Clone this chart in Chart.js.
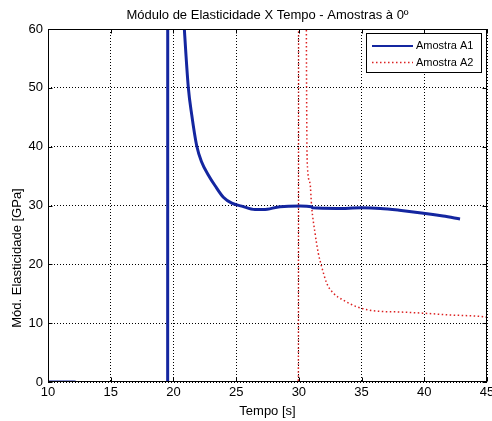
<!DOCTYPE html>
<html>
<head>
<meta charset="utf-8">
<script src="https://cdn.jsdelivr.net/npm/chart.js@4"></script>
<style>
html,body{margin:0;padding:0;background:#fff}
</style>
</head>
<body>
<canvas id="myChart" width="492" height="421"></canvas>
<script>
// tick values
let xTicks=[10,15,20,25,30,35,40,45]
let yTicks=[0,10,20,30,40,50,60]

// Amostra A1 (blue) - null = gap in the line
let a1X=[10,12.2,15,19.54,19.56,20.6,20.87,21.19,21.46,21.85,22.25,22.78,23.31,23.98,24.65,25.44,26.5,27.17,28.5,30.1,31.0,31.1,33.0,35.0,36.5,38.0,39.93,41.5,42.85]
let a1Y=[0,0,null,0,200,70,60,50,45.4,40.2,37.4,35.2,33.4,31.4,30.4,29.9,29.3,29.3,29.8,29.9,29.8,29.6,29.5,29.6,29.5,29.2,28.7,28.2,27.7]

// Amostra A2 (red dotted)
let a2X=[12.2,29.96,30.0,30.58,30.62,30.66,30.89,31.02,31.29,31.55,31.82,32.22,32.75,33.55,34.6,35.67,36.5,38.0,39.9,42.0,44.7,45]
let a2Y=[0,0,150,70,47.9,37.7,33.8,29.8,25.3,21.9,19.6,16.8,15.1,13.9,12.8,12.2,12.0,11.9,11.7,11.4,11.1,11.0]

let names=["Amostra A1","Amostra A2"]
let colors=["#1426a0","#dc2020"]

function pts(xs,ys){
  let out=[]
  for(let i=0;i<xs.length;i++){ out.push({x:xs[i],y:ys[i]}) }
  return out
}

let fontName="'Liberation Sans', Arial, sans-serif"

let decoPlugin={
  id:"deco",
  afterDraw(chart){
    let c=chart.ctx
    let a=chart.chartArea
    let sx=chart.scales.x, sy=chart.scales.y
    let L=Math.round(a.left)+0.5, R=Math.round(a.right)-0.5, T=Math.round(a.top)+0.5, B=Math.round(a.bottom)-0.5
    c.save()
    c.setLineDash([])
    c.strokeStyle="#000"
    c.lineWidth=1
    c.strokeRect(L,T,R-L,B-T)
    // inward ticks
    c.beginPath()
    xTicks.forEach(v=>{
      let p=Math.round(sx.getPixelForValue(v))+0.5
      c.moveTo(p,B);c.lineTo(p,B-4)
      c.moveTo(p,T);c.lineTo(p,T+4)
    })
    yTicks.forEach(v=>{
      let p=Math.round(sy.getPixelForValue(v))+0.5
      c.moveTo(L,p);c.lineTo(L+4,p)
      c.moveTo(R,p);c.lineTo(R-4,p)
    })
    c.stroke()

    // title and axis labels
    c.fillStyle="#000"
    c.font="13px "+fontName
    c.textAlign="center"
    c.textBaseline="middle"
    c.fillText("Módulo de Elasticidade X Tempo - Amostras à 0º",(a.left+a.right)/2,15)
    c.fillText("Tempo [s]",(a.left+a.right)/2,411)
    c.save()
    c.translate(17,258)
    c.rotate(-Math.PI/2)
    c.fillText("Mód. Elasticidade [GPa]",0,0)
    c.restore()

    // legend box
    let lx=366.5, ly=33.5, lw=115, lh=39
    c.fillStyle="#fff"
    c.fillRect(lx,ly,lw,lh)
    c.strokeStyle="#000"
    c.lineWidth=1
    c.strokeRect(lx,ly,lw,lh)
    c.font="11px "+fontName
    c.textAlign="left"
    c.fillStyle="#000"
    let rows=[46,62.5]
    names.forEach((n,i)=>{
      c.beginPath()
      c.strokeStyle=colors[i]
      if(i==0){c.lineWidth=2;c.setLineDash([])}
      else{c.lineWidth=1.5;c.setLineDash([1.5,2.5])}
      c.moveTo(372,rows[i]);c.lineTo(413,rows[i])
      c.stroke()
      c.setLineDash([])
      c.fillText(n,416,rows[i])
    })
    c.restore()
  }
}

let ctx=document.getElementById("myChart").getContext("2d")
let myChart=new Chart(ctx,{
  type:"scatter",
  data:{
    datasets:[{
      label:names[0],
      data:pts(a1X,a1Y),
      showLine:true,
      spanGaps:false,
      borderColor:colors[0],
      borderWidth:3,
      pointRadius:0,
      cubicInterpolationMode:"monotone"
    },{
      label:names[1],
      data:pts(a2X,a2Y),
      showLine:true,
      borderColor:colors[1],
      borderWidth:1.5,
      borderDash:[1.5,2.5],
      pointRadius:0,
      cubicInterpolationMode:"monotone"
    }]
  },
  options:{
    responsive:false,
    animation:false,
    layout:{padding:{top:29,right:5,left:0,bottom:0}},
    plugins:{legend:{display:false},title:{display:false},tooltip:{enabled:false}},
    scales:{
      x:{
        type:"linear",min:10,max:45,
        afterBuildTicks(s){s.ticks=xTicks.map(v=>({value:v}))},
        afterFit(s){s.height=39;s.paddingLeft=0;s.paddingRight=0},
        grid:{color:"#000",drawTicks:false,lineWidth:1},
        border:{display:false,dash:[1,2]},
        ticks:{color:"#000",padding:3,maxRotation:0,font:{family:fontName,size:13}}
      },
      y:{
        min:0,max:60,
        afterBuildTicks(s){s.ticks=yTicks.map(v=>({value:v}))},
        afterFit(s){s.width=48;s.paddingTop=0;s.paddingBottom=0},
        grid:{color:"#000",drawTicks:false,lineWidth:1},
        border:{display:false,dash:[1,2]},
        ticks:{color:"#000",padding:5,font:{family:fontName,size:13}}
      }
    }
  },
  plugins:[decoPlugin]
})
</script>
</body>
</html>
